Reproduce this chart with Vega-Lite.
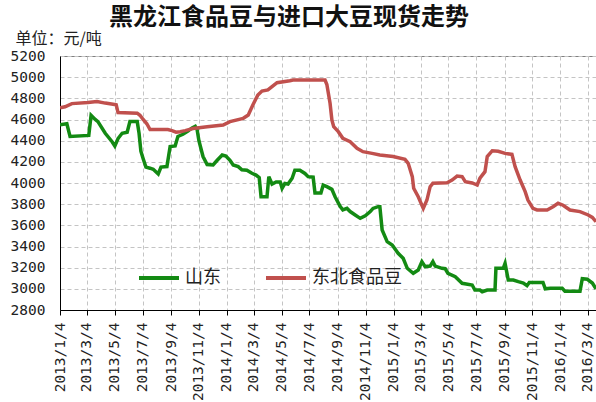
{
  "$schema": "https://vega.github.io/schema/vega-lite/v6.json",
  "width": 536,
  "height": 254,
  "autosize": "none",
  "padding": {"left": 60, "top": 56, "right": 0, "bottom": 92},
  "background": "white",
  "title": {
    "text": "黑龙江食品豆与进口大豆现货走势",
    "anchor": "middle",
    "frame": "group",
    "dx": -39,
    "offset": 0,
    "fontSize": 24,
    "fontWeight": "bold",
    "font": "Noto Sans CJK SC",
    "color": "#111111"
  },
  "config": {
    "view": {"stroke": "#808080", "strokeWidth": 1}
  },
  "data": {
    "values": [
      {"date": "2013/01/04", "series": "山东", "value": 4550},
      {"date": "2013/01/19", "series": "山东", "value": 4560},
      {"date": "2013/01/26", "series": "山东", "value": 4440},
      {"date": "2013/03/08", "series": "山东", "value": 4450},
      {"date": "2013/03/13", "series": "山东", "value": 4640},
      {"date": "2013/03/22", "series": "山东", "value": 4600},
      {"date": "2013/03/28", "series": "山东", "value": 4580},
      {"date": "2013/04/13", "series": "山东", "value": 4470},
      {"date": "2013/04/28", "series": "山东", "value": 4390},
      {"date": "2013/05/04", "series": "山东", "value": 4350},
      {"date": "2013/05/11", "series": "山东", "value": 4420},
      {"date": "2013/05/20", "series": "山东", "value": 4470},
      {"date": "2013/05/31", "series": "山东", "value": 4480},
      {"date": "2013/06/06", "series": "山东", "value": 4580},
      {"date": "2013/06/22", "series": "山东", "value": 4580},
      {"date": "2013/06/26", "series": "山东", "value": 4470},
      {"date": "2013/06/30", "series": "山东", "value": 4300},
      {"date": "2013/07/05", "series": "山东", "value": 4230},
      {"date": "2013/07/11", "series": "山东", "value": 4150},
      {"date": "2013/07/20", "series": "山东", "value": 4140},
      {"date": "2013/07/27", "series": "山东", "value": 4130},
      {"date": "2013/08/07", "series": "山东", "value": 4085},
      {"date": "2013/08/13", "series": "山东", "value": 4150},
      {"date": "2013/08/26", "series": "山东", "value": 4155},
      {"date": "2013/09/02", "series": "山东", "value": 4345},
      {"date": "2013/09/13", "series": "山东", "value": 4350},
      {"date": "2013/09/19", "series": "山东", "value": 4440},
      {"date": "2013/09/30", "series": "山东", "value": 4460},
      {"date": "2013/10/11", "series": "山东", "value": 4490},
      {"date": "2013/10/20", "series": "山东", "value": 4520},
      {"date": "2013/10/27", "series": "山东", "value": 4535},
      {"date": "2013/10/31", "series": "山东", "value": 4505},
      {"date": "2013/11/04", "series": "山东", "value": 4400},
      {"date": "2013/11/13", "series": "山东", "value": 4250},
      {"date": "2013/11/22", "series": "山东", "value": 4175},
      {"date": "2013/12/05", "series": "山东", "value": 4170},
      {"date": "2013/12/14", "series": "山东", "value": 4215},
      {"date": "2013/12/25", "series": "山东", "value": 4265},
      {"date": "2014/01/02", "series": "山东", "value": 4255},
      {"date": "2014/01/11", "series": "山东", "value": 4215},
      {"date": "2014/01/18", "series": "山东", "value": 4170},
      {"date": "2014/01/29", "series": "山东", "value": 4155},
      {"date": "2014/02/06", "series": "山东", "value": 4125},
      {"date": "2014/02/17", "series": "山东", "value": 4120},
      {"date": "2014/02/28", "series": "山东", "value": 4092},
      {"date": "2014/03/09", "series": "山东", "value": 4075},
      {"date": "2014/03/16", "series": "山东", "value": 4050},
      {"date": "2014/03/20", "series": "山东", "value": 3870},
      {"date": "2014/04/02", "series": "山东", "value": 3870},
      {"date": "2014/04/06", "series": "山东", "value": 4060},
      {"date": "2014/04/13", "series": "山东", "value": 3990},
      {"date": "2014/04/22", "series": "山东", "value": 4010},
      {"date": "2014/05/01", "series": "山东", "value": 4010},
      {"date": "2014/05/05", "series": "山东", "value": 3950},
      {"date": "2014/05/11", "series": "山东", "value": 3995},
      {"date": "2014/05/18", "series": "山东", "value": 3990},
      {"date": "2014/05/27", "series": "山东", "value": 4045},
      {"date": "2014/06/02", "series": "山东", "value": 4120},
      {"date": "2014/06/13", "series": "山东", "value": 4120},
      {"date": "2014/06/24", "series": "山东", "value": 4090},
      {"date": "2014/07/01", "series": "山东", "value": 4060},
      {"date": "2014/07/12", "series": "山东", "value": 4055},
      {"date": "2014/07/16", "series": "山东", "value": 3905},
      {"date": "2014/07/29", "series": "山东", "value": 3905},
      {"date": "2014/08/03", "series": "山东", "value": 3980},
      {"date": "2014/08/11", "series": "山东", "value": 3965},
      {"date": "2014/08/22", "series": "山东", "value": 3940},
      {"date": "2014/08/29", "series": "山东", "value": 3870},
      {"date": "2014/09/09", "series": "山东", "value": 3780},
      {"date": "2014/09/15", "series": "山东", "value": 3745},
      {"date": "2014/09/24", "series": "山东", "value": 3760},
      {"date": "2014/10/01", "series": "山东", "value": 3730},
      {"date": "2014/10/12", "series": "山东", "value": 3698},
      {"date": "2014/10/23", "series": "山东", "value": 3666},
      {"date": "2014/11/03", "series": "山东", "value": 3690},
      {"date": "2014/11/14", "series": "山东", "value": 3730},
      {"date": "2014/11/20", "series": "山东", "value": 3760},
      {"date": "2014/12/01", "series": "山东", "value": 3776},
      {"date": "2014/12/05", "series": "山东", "value": 3776},
      {"date": "2014/12/10", "series": "山东", "value": 3556},
      {"date": "2014/12/21", "series": "山东", "value": 3446},
      {"date": "2015/01/01", "series": "山东", "value": 3414},
      {"date": "2015/01/14", "series": "山东", "value": 3336},
      {"date": "2015/01/25", "series": "山东", "value": 3288},
      {"date": "2015/02/03", "series": "山东", "value": 3194},
      {"date": "2015/02/16", "series": "山东", "value": 3147},
      {"date": "2015/02/27", "series": "山东", "value": 3178},
      {"date": "2015/03/07", "series": "山东", "value": 3257},
      {"date": "2015/03/14", "series": "山东", "value": 3210},
      {"date": "2015/03/25", "series": "山东", "value": 3215},
      {"date": "2015/03/31", "series": "山东", "value": 3257},
      {"date": "2015/04/05", "series": "山东", "value": 3215},
      {"date": "2015/04/20", "series": "山东", "value": 3194},
      {"date": "2015/04/27", "series": "山东", "value": 3190},
      {"date": "2015/05/03", "series": "山东", "value": 3147},
      {"date": "2015/05/19", "series": "山东", "value": 3115},
      {"date": "2015/06/03", "series": "山东", "value": 3052},
      {"date": "2015/06/25", "series": "山东", "value": 3036},
      {"date": "2015/07/01", "series": "山东", "value": 2989},
      {"date": "2015/07/12", "series": "山东", "value": 2989},
      {"date": "2015/07/17", "series": "山东", "value": 2973},
      {"date": "2015/07/28", "series": "山东", "value": 2989},
      {"date": "2015/08/14", "series": "山东", "value": 2989},
      {"date": "2015/08/16", "series": "山东", "value": 3194},
      {"date": "2015/09/01", "series": "山东", "value": 3194},
      {"date": "2015/09/05", "series": "山东", "value": 3241},
      {"date": "2015/09/12", "series": "山东", "value": 3083},
      {"date": "2015/09/23", "series": "山东", "value": 3083},
      {"date": "2015/10/04", "series": "山东", "value": 3068},
      {"date": "2015/10/15", "series": "山东", "value": 3055},
      {"date": "2015/10/23", "series": "山东", "value": 3030},
      {"date": "2015/10/28", "series": "山东", "value": 3060},
      {"date": "2015/11/27", "series": "山东", "value": 3060},
      {"date": "2015/12/02", "series": "山东", "value": 3000},
      {"date": "2015/12/13", "series": "山东", "value": 3005},
      {"date": "2016/01/08", "series": "山东", "value": 3005},
      {"date": "2016/01/14", "series": "山东", "value": 2978},
      {"date": "2016/02/16", "series": "山东", "value": 2978},
      {"date": "2016/02/21", "series": "山东", "value": 3095},
      {"date": "2016/03/03", "series": "山东", "value": 3090},
      {"date": "2016/03/14", "series": "山东", "value": 3055},
      {"date": "2016/03/22", "series": "山东", "value": 3000},

      {"date": "2013/01/04", "series": "东北食品豆", "value": 4710},
      {"date": "2013/01/15", "series": "东北食品豆", "value": 4720},
      {"date": "2013/01/30", "series": "东北食品豆", "value": 4750},
      {"date": "2013/03/06", "series": "东北食品豆", "value": 4760},
      {"date": "2013/03/26", "series": "东北食品豆", "value": 4770},
      {"date": "2013/04/13", "series": "东北食品豆", "value": 4755},
      {"date": "2013/04/30", "series": "东北食品豆", "value": 4745},
      {"date": "2013/05/07", "series": "东北食品豆", "value": 4740},
      {"date": "2013/05/11", "series": "东北食品豆", "value": 4665},
      {"date": "2013/06/22", "series": "东北食品豆", "value": 4660},
      {"date": "2013/06/28", "series": "东北食品豆", "value": 4640},
      {"date": "2013/07/05", "series": "东北食品豆", "value": 4600},
      {"date": "2013/07/13", "series": "东北食品豆", "value": 4560},
      {"date": "2013/07/20", "series": "东北食品豆", "value": 4505},
      {"date": "2013/08/28", "series": "东北食品豆", "value": 4505},
      {"date": "2013/09/06", "series": "东北食品豆", "value": 4495},
      {"date": "2013/09/15", "series": "东北食品豆", "value": 4480},
      {"date": "2013/09/24", "series": "东北食品豆", "value": 4485},
      {"date": "2013/10/05", "series": "东北食品豆", "value": 4495},
      {"date": "2013/10/22", "series": "东北食品豆", "value": 4515},
      {"date": "2013/11/22", "series": "东北食品豆", "value": 4532},
      {"date": "2013/12/27", "series": "东北食品豆", "value": 4548},
      {"date": "2014/01/11", "series": "东北食品豆", "value": 4580},
      {"date": "2014/02/09", "series": "东北食品豆", "value": 4611},
      {"date": "2014/02/20", "series": "东北食品豆", "value": 4642},
      {"date": "2014/03/02", "series": "东北食品豆", "value": 4737},
      {"date": "2014/03/13", "series": "东北食品豆", "value": 4831},
      {"date": "2014/03/22", "series": "东北食品豆", "value": 4869},
      {"date": "2014/04/04", "series": "东北食品豆", "value": 4879},
      {"date": "2014/04/13", "series": "东北食品豆", "value": 4910},
      {"date": "2014/04/24", "series": "东北食品豆", "value": 4948},
      {"date": "2014/05/22", "series": "东北食品豆", "value": 4967},
      {"date": "2014/05/29", "series": "东北食品豆", "value": 4973},
      {"date": "2014/08/07", "series": "东北食品豆", "value": 4973},
      {"date": "2014/08/11", "series": "东北食品豆", "value": 4930},
      {"date": "2014/08/18", "series": "东北食品豆", "value": 4753},
      {"date": "2014/08/22", "series": "东北食品豆", "value": 4595},
      {"date": "2014/08/26", "series": "东北食品豆", "value": 4532},
      {"date": "2014/09/05", "series": "东北食品豆", "value": 4485},
      {"date": "2014/09/15", "series": "东北食品豆", "value": 4422},
      {"date": "2014/10/01", "series": "东北食品豆", "value": 4390},
      {"date": "2014/10/16", "series": "东北食品豆", "value": 4328},
      {"date": "2014/10/29", "series": "东北食品豆", "value": 4296},
      {"date": "2014/11/18", "series": "东北食品豆", "value": 4280},
      {"date": "2014/12/05", "series": "东北食品豆", "value": 4265},
      {"date": "2015/01/03", "series": "东北食品豆", "value": 4250},
      {"date": "2015/01/29", "series": "东北食品豆", "value": 4224},
      {"date": "2015/02/05", "series": "东北食品豆", "value": 4186},
      {"date": "2015/02/14", "series": "东北食品豆", "value": 4060},
      {"date": "2015/02/17", "series": "东北食品豆", "value": 3950},
      {"date": "2015/02/27", "series": "东北食品豆", "value": 3870},
      {"date": "2015/03/10", "series": "东北食品豆", "value": 3760},
      {"date": "2015/03/18", "series": "东北食品豆", "value": 3839},
      {"date": "2015/03/25", "series": "东北食品豆", "value": 3965},
      {"date": "2015/03/31", "series": "东北食品豆", "value": 3997},
      {"date": "2015/05/01", "series": "东北食品豆", "value": 4003},
      {"date": "2015/05/12", "series": "东北食品豆", "value": 4028},
      {"date": "2015/05/23", "series": "东北食品豆", "value": 4066},
      {"date": "2015/06/03", "series": "东北食品豆", "value": 4060},
      {"date": "2015/06/10", "series": "东北食品豆", "value": 4013},
      {"date": "2015/06/25", "series": "东北食品豆", "value": 4000},
      {"date": "2015/07/06", "series": "东北食品豆", "value": 3981},
      {"date": "2015/07/12", "series": "东北食品豆", "value": 4045},
      {"date": "2015/07/23", "series": "东北食品豆", "value": 4107},
      {"date": "2015/07/28", "series": "东北食品豆", "value": 4250},
      {"date": "2015/08/08", "series": "东北食品豆", "value": 4305},
      {"date": "2015/08/21", "series": "东北食品豆", "value": 4300},
      {"date": "2015/09/05", "series": "东北食品豆", "value": 4280},
      {"date": "2015/09/20", "series": "东北食品豆", "value": 4270},
      {"date": "2015/09/27", "series": "东北食品豆", "value": 4154},
      {"date": "2015/10/08", "series": "东北食品豆", "value": 4028},
      {"date": "2015/10/19", "series": "东北食品豆", "value": 3918},
      {"date": "2015/10/25", "series": "东北食品豆", "value": 3839},
      {"date": "2015/11/05", "series": "东北食品豆", "value": 3760},
      {"date": "2015/11/14", "series": "东北食品豆", "value": 3745},
      {"date": "2015/12/06", "series": "东北食品豆", "value": 3745},
      {"date": "2015/12/19", "series": "东北食品豆", "value": 3776},
      {"date": "2015/12/30", "series": "东北食品豆", "value": 3808},
      {"date": "2016/01/10", "series": "东北食品豆", "value": 3790},
      {"date": "2016/01/25", "series": "东北食品豆", "value": 3745},
      {"date": "2016/02/16", "series": "东北食品豆", "value": 3730},
      {"date": "2016/03/05", "series": "东北食品豆", "value": 3698},
      {"date": "2016/03/14", "series": "东北食品豆", "value": 3675},
      {"date": "2016/03/22", "series": "东北食品豆", "value": 3635}
    ]
  },
  "mark": {"type": "line", "strokeWidth": 3.5, "clip": true},
  "encoding": {
    "x": {
      "field": "date",
      "type": "temporal",
      "scale": {
        "domain": [
          {"year": 2013, "month": 1, "date": 4},
          {"year": 2016, "month": 3, "date": 22}
        ]
      },
      "axis": {
        "values": [
          {"year": 2013, "month": 1, "date": 4},
          {"year": 2013, "month": 3, "date": 4},
          {"year": 2013, "month": 5, "date": 4},
          {"year": 2013, "month": 7, "date": 4},
          {"year": 2013, "month": 9, "date": 4},
          {"year": 2013, "month": 11, "date": 4},
          {"year": 2014, "month": 1, "date": 4},
          {"year": 2014, "month": 3, "date": 4},
          {"year": 2014, "month": 5, "date": 4},
          {"year": 2014, "month": 7, "date": 4},
          {"year": 2014, "month": 9, "date": 4},
          {"year": 2014, "month": 11, "date": 4},
          {"year": 2015, "month": 1, "date": 4},
          {"year": 2015, "month": 3, "date": 4},
          {"year": 2015, "month": 5, "date": 4},
          {"year": 2015, "month": 7, "date": 4},
          {"year": 2015, "month": 9, "date": 4},
          {"year": 2015, "month": 11, "date": 4},
          {"year": 2016, "month": 1, "date": 4},
          {"year": 2016, "month": 3, "date": 4}
        ],
        "format": "%Y/%-m/%-d",
        "title": null,
        "labelAngle": -90,
        "labelAlign": "right",
        "labelBaseline": "middle",
        "labelFont": "DejaVu Sans Mono",
        "labelFontSize": 14.5,
        "labelColor": "#222222",
        "labelPadding": 7,
        "labelOverlap": false,
        "labelFlush": false,
        "domainColor": "#000000",
        "tickColor": "#000000",
        "tickSize": 5,
        "grid": true,
        "gridDash": [4, 3],
        "gridColor": "#c4c4c4"
      }
    },
    "y": {
      "field": "value",
      "type": "quantitative",
      "scale": {"domain": [2800, 5200], "nice": false, "zero": false},
      "axis": {
        "values": [2800, 3000, 3200, 3400, 3600, 3800, 4000, 4200, 4400, 4600, 4800, 5000, 5200],
        "format": "d",
        "labelFont": "DejaVu Sans Mono",
        "labelFontSize": 14.5,
        "labelColor": "#222222",
        "labelPadding": 15,
        "ticks": false,
        "domainColor": "#000000",
        "grid": true,
        "gridDash": [4, 3],
        "gridColor": "#c4c4c4",
        "title": "单位：元/吨",
        "titleAngle": 0,
        "titleX": -45,
        "titleY": -18,
        "titleAlign": "left",
        "titleBaseline": "middle",
        "titleFont": "Noto Sans CJK SC",
        "titleFontSize": 16,
        "titleFontWeight": "normal",
        "titleColor": "#222222"
      }
    },
    "color": {
      "field": "series",
      "type": "nominal",
      "scale": {"domain": ["山东", "东北食品豆"], "range": ["#138a13", "#c0504d"]},
      "legend": {
        "orient": "none",
        "legendX": 77,
        "legendY": 200,
        "direction": "horizontal",
        "title": null,
        "symbolType": "stroke",
        "symbolSize": 1600,
        "symbolStrokeWidth": 4,
        "labelFont": "Noto Sans CJK SC",
        "labelFontSize": 18,
        "labelColor": "#222222",
        "labelOffset": 4,
        "columnPadding": 37,
        "padding": 0
      }
    }
  }
}
